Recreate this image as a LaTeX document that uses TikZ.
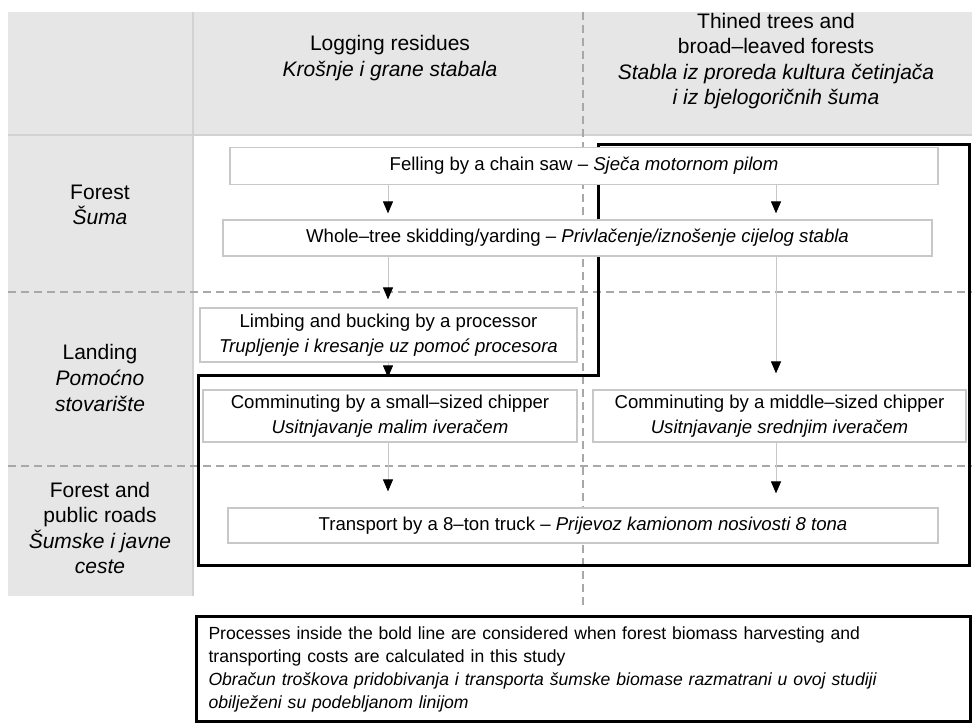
\documentclass[tikz,border=0pt]{standalone}
\usepackage{fontspec}
\setmainfont{Liberation Sans}
\usetikzlibrary{arrows.meta,positioning}
\definecolor{bandgray}{HTML}{E6E6E6}
\definecolor{linegray}{HTML}{D2D2D2}
\definecolor{boxgray}{HTML}{C8C8C8}
\definecolor{dashgray}{HTML}{A8A8A8}

\begin{document}
\begin{tikzpicture}[x=0.5pt,y=-0.5pt,
  proc/.style={draw=boxgray,fill=white,line width=0.6pt,align=center,inner sep=0pt,
    font=\fontsize{9.3}{12.8}\selectfont},
  rowlab/.style={align=center,font=\fontsize{10.5}{12.8}\selectfont},
  flow/.style={draw=boxgray,line width=0.5pt,-{Triangle[length=6pt,width=5pt,color=black]}},
  zone/.style={draw=dashgray,line width=0.6pt,dash pattern=on 4pt off 2.5pt},
  bold/.style={draw=black,line width=1.5pt}]
\useasboundingbox (0,0) rectangle (972,727);
% grey header and left column
\fill[bandgray] (8,12) rectangle (972,135);
\fill[bandgray] (8,12) rectangle (193,596);
\draw[linegray,line width=0.8pt] (193,12) -- (193,596);
\draw[linegray,line width=0.8pt] (8,135) -- (972,135);
% zone borders
\draw[zone] (583,12) -- (583,606);
\draw[zone] (8,292) -- (972,292);
\draw[zone] (8,466) -- (972,466);
\coordinate (colL) at (388,0);
\coordinate (colR) at (776,0);
% costed part
\draw[bold] (598,145) -- (969,145) -- (969,565) -- (198,565) -- (198,375) -- (598,375) -- cycle;
% headers
\node[rowlab](resid)at(390, 58){Logging residues\\\textit{Krošnje i grane stabala}};
\node[rowlab](thin)at(776, 61){Thined trees and\\broad–leaved forests\\\textit{Stabla iz proreda kultura četinjača}\\\textit{i iz bjelogoričnih šuma}};
\node[rowlab](forest)at(100, 205){Forest\\\textit{Šuma}};
\node[rowlab](landing)at(100, 378){Landing\\\textit{Pomoćno}\\\textit{stovarište}};
\node[rowlab](roads)at(100, 528){Forest and\\public roads\\\textit{Šumske i javne}\\\textit{ceste}};
% processes
\node[proc,minimum width=354pt,minimum height=18.5pt](fell)at(584, 166){Felling by a chain saw – \textit{Sječa motornom pilom}};
\node[proc,minimum width=354.5pt,minimum height=18pt](skid)at(577.5, 238){Whole–tree skidding/yarding – \textit{Privlačenje/iznošenje cijelog stabla}};
\node[proc,minimum width=188.5pt,minimum height=27pt](limb)at(388.5, 335){Limbing and bucking by a processor\\\textit{Trupljenje i kresanje uz pomoć procesora}};
\node[proc,minimum width=187pt,minimum height=26pt](small)at(390, 416){Comminuting by a small–sized chipper\\\textit{Usitnjavanje malim iveračem}};
\node[proc,minimum width=186.5pt,minimum height=26pt](middle)at(779.5, 416){Comminuting by a middle–sized chipper\\\textit{Usitnjavanje srednjim iveračem}};
\node[proc,minimum width=355pt,minimum height=17.5pt](truck)at(583, 525.5){Transport by a 8–ton truck – \textit{Prijevoz kamionom nosivosti 8 tona}};
% flows
\draw[flow,shorten >=3pt] (fell.south -| colL) -- (skid.north -| colL);
\draw[flow,shorten >=3pt] (fell.south -| colR) -- (skid.north -| colR);
\draw[flow,shorten >=4pt] (skid.south -| colL) -- (limb.north -| colL);
\draw[flow,shorten >=8pt] (skid.south -| colR) -- (middle.north -| colR);
\draw[flow,shorten >=6pt] (limb.south -| colL) -- (small.north -| colL);
\draw[flow,shorten >=8pt] (small.south -| colL) -- (truck.north -| colL);
\draw[flow,shorten >=7pt] (middle.south -| colR) -- (truck.north -| colR);
% legend
\node[bold,anchor=north west,minimum width=387pt,minimum height=52.5pt,text width=375pt,
  inner xsep=6pt,align=left,font=\fontsize{8.8}{11.5}\selectfont](note)at(195, 615){Processes inside the bold line are considered when forest biomass harvesting and\\transporting costs are calculated in this study\\\textit{Obračun troškova pridobivanja i transporta šumske biomase razmatrani u ovoj studiji}\\\textit{obilježeni su podebljanom linijom}};
\end{tikzpicture}
\end{document}
